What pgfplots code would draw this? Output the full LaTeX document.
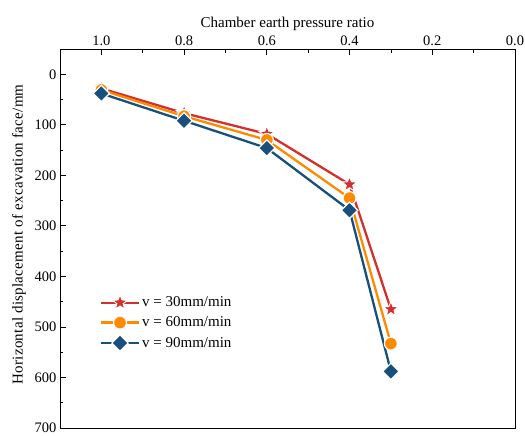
\documentclass[border=0pt]{standalone}
\usepackage{pgfplots}
\pgfplotsset{compat=1.18}
\usepackage{fontspec}
\setmainfont{Liberation Serif}
\definecolor{cred}{HTML}{D3302B}
\definecolor{corange}{HTML}{FF8A00}
\definecolor{cblue}{HTML}{17507D}
\pgfdeclareplotmark{fstar}{%
 \pgfpathmoveto{\pgfpointpolar{90}{\pgfplotmarksize}}%
 \pgfpathlineto{\pgfpointpolar{126}{0.42\pgfplotmarksize}}%
 \pgfpathlineto{\pgfpointpolar{162}{\pgfplotmarksize}}%
 \pgfpathlineto{\pgfpointpolar{198}{0.42\pgfplotmarksize}}%
 \pgfpathlineto{\pgfpointpolar{234}{\pgfplotmarksize}}%
 \pgfpathlineto{\pgfpointpolar{270}{0.42\pgfplotmarksize}}%
 \pgfpathlineto{\pgfpointpolar{306}{\pgfplotmarksize}}%
 \pgfpathlineto{\pgfpointpolar{342}{0.42\pgfplotmarksize}}%
 \pgfpathlineto{\pgfpointpolar{18}{\pgfplotmarksize}}%
 \pgfpathlineto{\pgfpointpolar{54}{0.42\pgfplotmarksize}}%
 \pgfpathclose
 \pgfusepathqfillstroke}
\begin{document}
\begin{tikzpicture}
\begin{axis}[
  name=ax,
  scale only axis,
  width=455pt, height=379pt,
  xmin=0, xmax=1.1, ymin=-50, ymax=700,
  x dir=reverse, y dir=reverse,
  xtick={0,0.2,0.4,0.6,0.8,1.0},
  minor xtick={0.1,0.3,0.5,0.7,0.9},
  xticklabels={0.0,0.2,0.4,0.6,0.8,1.0},
  ytick={0,100,...,700},
  minor ytick={50,150,...,650},
  tick align=inside,
  xtick pos=right, ytick pos=left,
  xticklabel pos=right, xlabel near ticks,
  major tick length=6pt, minor tick length=3.5pt,
  every tick/.style={black, line width=0.8pt},
  axis line style={line width=0.9pt},
  xlabel={Chamber earth pressure ratio},
  ylabel={\addfontfeature{LetterSpace=2}Horizontal displacement of excavation face/mm},
  xlabel style={font=\fontsize{15}{17}\selectfont, yshift=-2pt},
  ylabel style={font=\fontsize{15}{17}\selectfont, yshift=2pt, xshift=4pt},
  tick label style={font=\fontsize{14.5}{16}\selectfont},
  /pgf/number format/assume math mode=true,
  legend style={at={(0.085,0.355)}, anchor=north west, draw=none, fill=none,
    font=\fontsize{15}{17}\selectfont, row sep=4.5pt, inner sep=1pt},
  legend cell align=left,
  legend image code/.code={\draw[#1, mark repeat=2, mark phase=2] plot coordinates {(0pt,0pt) (19pt,0pt) (38pt,0pt)};},
]
\addplot[cred, line width=2.3pt, mark=fstar, mark size=8pt,
  mark options={solid, fill=cred, draw=white, line width=1pt}] coordinates {
  (1.0,28) (0.8,77) (0.6,118) (0.4,218) (0.3,465)};
\addlegendentry{v = 30mm/min}
\addplot[corange, line width=2.3pt, mark=*, mark size=6.5pt,
  mark options={solid, fill=corange, draw=white, line width=1.2pt}] coordinates {
  (1.0,31) (0.8,83) (0.6,130) (0.4,245) (0.3,533)};
\addlegendentry{v = 60mm/min}
\addplot[cblue, line width=2.3pt, mark=square*, mark size=5.8pt,
  mark options={solid, fill=cblue, draw=white, line width=1.2pt, rotate=45}] coordinates {
  (1.0,38) (0.8,92) (0.6,146) (0.4,269) (0.3,588)};
\addlegendentry{v = 90mm/min}
\end{axis}
\pgfresetboundingbox
\path (ax.south west) ++(-60pt,-8pt) coordinate (bl);
\path (ax.north east) ++(10pt,49pt) coordinate (tr);
\useasboundingbox (bl) rectangle (tr);
\end{tikzpicture}
\end{document}
